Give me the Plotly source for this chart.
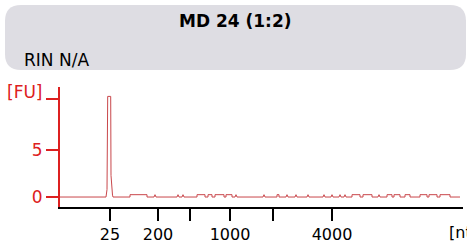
import plotly.graph_objects as go

# Data (migration time in s, fluorescence in FU)
time_s = [14.0, 23.2, 23.4, 23.54, 24.14, 24.2, 24.5, 24.6,
          28.0, 28.0, 31.4, 31.4,
          32.8, 33.0, 33.2,
          37.4, 37.6, 37.8, 38.4, 38.6, 38.8,
          41.4, 41.4, 43.0, 43.0, 43.6, 43.6, 44.4, 44.4,
          45.0, 45.0, 46.8, 46.8, 47.2, 47.2, 48.4, 48.4, 49.0, 49.2, 49.4,
          54.6, 54.8, 55.0, 57.4, 57.4, 57.8, 57.8, 59.2, 59.4, 59.6,
          61.0, 61.2, 61.4, 63.4, 63.6, 63.8, 66.6, 66.8, 67.0,
          68.2, 68.4, 68.6, 69.8, 70.0, 70.2, 70.8, 71.0, 71.2,
          72.4, 72.4, 74.0, 74.0, 74.6, 74.6, 76.4, 76.4, 77.6, 77.8, 78.0,
          79.4, 79.4, 80.4, 80.4, 80.8, 80.8, 82.0, 82.0,
          83.0, 83.0, 84.0, 84.0, 86.0, 86.0, 87.4, 87.4, 87.8, 87.8, 89.4, 89.4,
          90.0, 90.0, 92.0, 92.0, 94.0]
fu = [0.0, 0.0, 0.8, 10.7, 10.7, 2.3, 0.2, 0.0,
      0.0, 0.25, 0.25, 0.0,
      0.0, 0.25, 0.0,
      0.0, 0.25, 0.0, 0.0, 0.25, 0.0,
      0.0, 0.25, 0.25, 0.0, 0.0, 0.25, 0.25, 0.0,
      0.0, 0.25, 0.25, 0.0, 0.0, 0.25, 0.25, 0.0, 0.0, 0.25, 0.0,
      0.0, 0.25, 0.0, 0.0, 0.25, 0.25, 0.0, 0.0, 0.25, 0.0,
      0.0, 0.25, 0.0, 0.0, 0.25, 0.0, 0.0, 0.25, 0.0,
      0.0, 0.25, 0.0, 0.0, 0.25, 0.0, 0.0, 0.25, 0.0,
      0.0, 0.25, 0.25, 0.0, 0.0, 0.25, 0.25, 0.0, 0.0, 0.25, 0.0,
      0.0, 0.25, 0.25, 0.0, 0.0, 0.25, 0.25, 0.0,
      0.0, 0.25, 0.25, 0.0, 0.0, 0.25, 0.25, 0.0, 0.0, 0.25, 0.25, 0.0,
      0.0, 0.25, 0.25, 0.0, 0.0]

ladder_time = [24.0, 33.6, 40.0, 48.0, 56.6, 68.4]
ladder_text = ["25", "200", "", "1000", "", "4000"]
y_ticks = [0, 5, 10.4]
y_text = ["0", "5", ""]

title = "MD 24 (1:2)"
subtitle = "RIN N/A"

W, H = 467, 250
ML, MR, MT, MB = 60, 4, 87, 43
PW, PH = W - ML - MR, H - MT - MB

RED = "#dd2020"
TRACE = "#c9474b"
FONT = "DejaVu Sans"

def px(x):
    return (x - ML) / PW

def py(y):
    return (H - MB - y) / PH

# rounded header box path in paper coords
x0, x1, y0, y1, r = 5, 466, 5, 70, 16
path = (f"M {px(x0 + r)} {py(y0)} L {px(x1 - r)} {py(y0)} "
        f"Q {px(x1)} {py(y0)} {px(x1)} {py(y0 + r)} L {px(x1)} {py(y1 - r)} "
        f"Q {px(x1)} {py(y1)} {px(x1 - r)} {py(y1)} L {px(x0 + r)} {py(y1)} "
        f"Q {px(x0)} {py(y1)} {px(x0)} {py(y1 - r)} L {px(x0)} {py(y0 + r)} "
        f"Q {px(x0)} {py(y0)} {px(x0 + r)} {py(y0)} Z")

fig = go.Figure()
fig.add_trace(go.Scatter(x=time_s, y=fu, mode="lines",
                         line=dict(color=TRACE, width=1), hoverinfo="skip"))

fig.update_layout(
    width=W, height=H,
    margin=dict(l=ML, r=MR, t=MT, b=MB),
    paper_bgcolor="white", plot_bgcolor="white",
    showlegend=False,
    font=dict(family=FONT, size=16),
    shapes=[dict(type="path", path=path, xref="paper", yref="paper",
                 fillcolor="#dedde3", line=dict(width=0), layer="below")],
    annotations=[
        dict(text=f"<b>{title}</b>", x=px(235), y=py(21), xref="paper", yref="paper",
             showarrow=False, xanchor="center", yanchor="middle",
             font=dict(family=FONT, size=17, color="black")),
        dict(text=subtitle, x=px(22), y=py(60), xref="paper", yref="paper",
             showarrow=False, xanchor="left", yanchor="middle",
             font=dict(family=FONT, size=17, color="black")),
        dict(text="[FU]", x=px(45), y=py(92), xref="paper", yref="paper",
             showarrow=False, xanchor="right", yanchor="middle",
             font=dict(family=FONT, size=17, color=RED)),
        dict(text="[nt]", x=px(447), y=py(232), xref="paper", yref="paper",
             showarrow=False, xanchor="left", yanchor="middle",
             font=dict(family=FONT, size=16, color="black")),
    ],
)
fig.update_xaxes(range=[14, 94.6], tickvals=ladder_time, ticktext=ladder_text,
                 showline=True, linecolor="black", linewidth=2,
                 ticks="outside", ticklen=12, tickwidth=2, tickcolor="black",
                 showgrid=False, zeroline=False,
                 tickfont=dict(family=FONT, size=16, color="black"))
fig.update_yaxes(range=[-1.06, 11.7], tickvals=y_ticks, ticktext=y_text,
                 showline=True, linecolor=RED, linewidth=2,
                 ticks="outside", ticklen=12, tickwidth=2, tickcolor=RED,
                 showgrid=False, zeroline=False,
                 tickfont=dict(family=FONT, size=17, color=RED))

fig.write_html("out.html", config={"displayModeBar": False},
               post_script="document.body.style.margin='0px';document.body.style.overflow='hidden';")
